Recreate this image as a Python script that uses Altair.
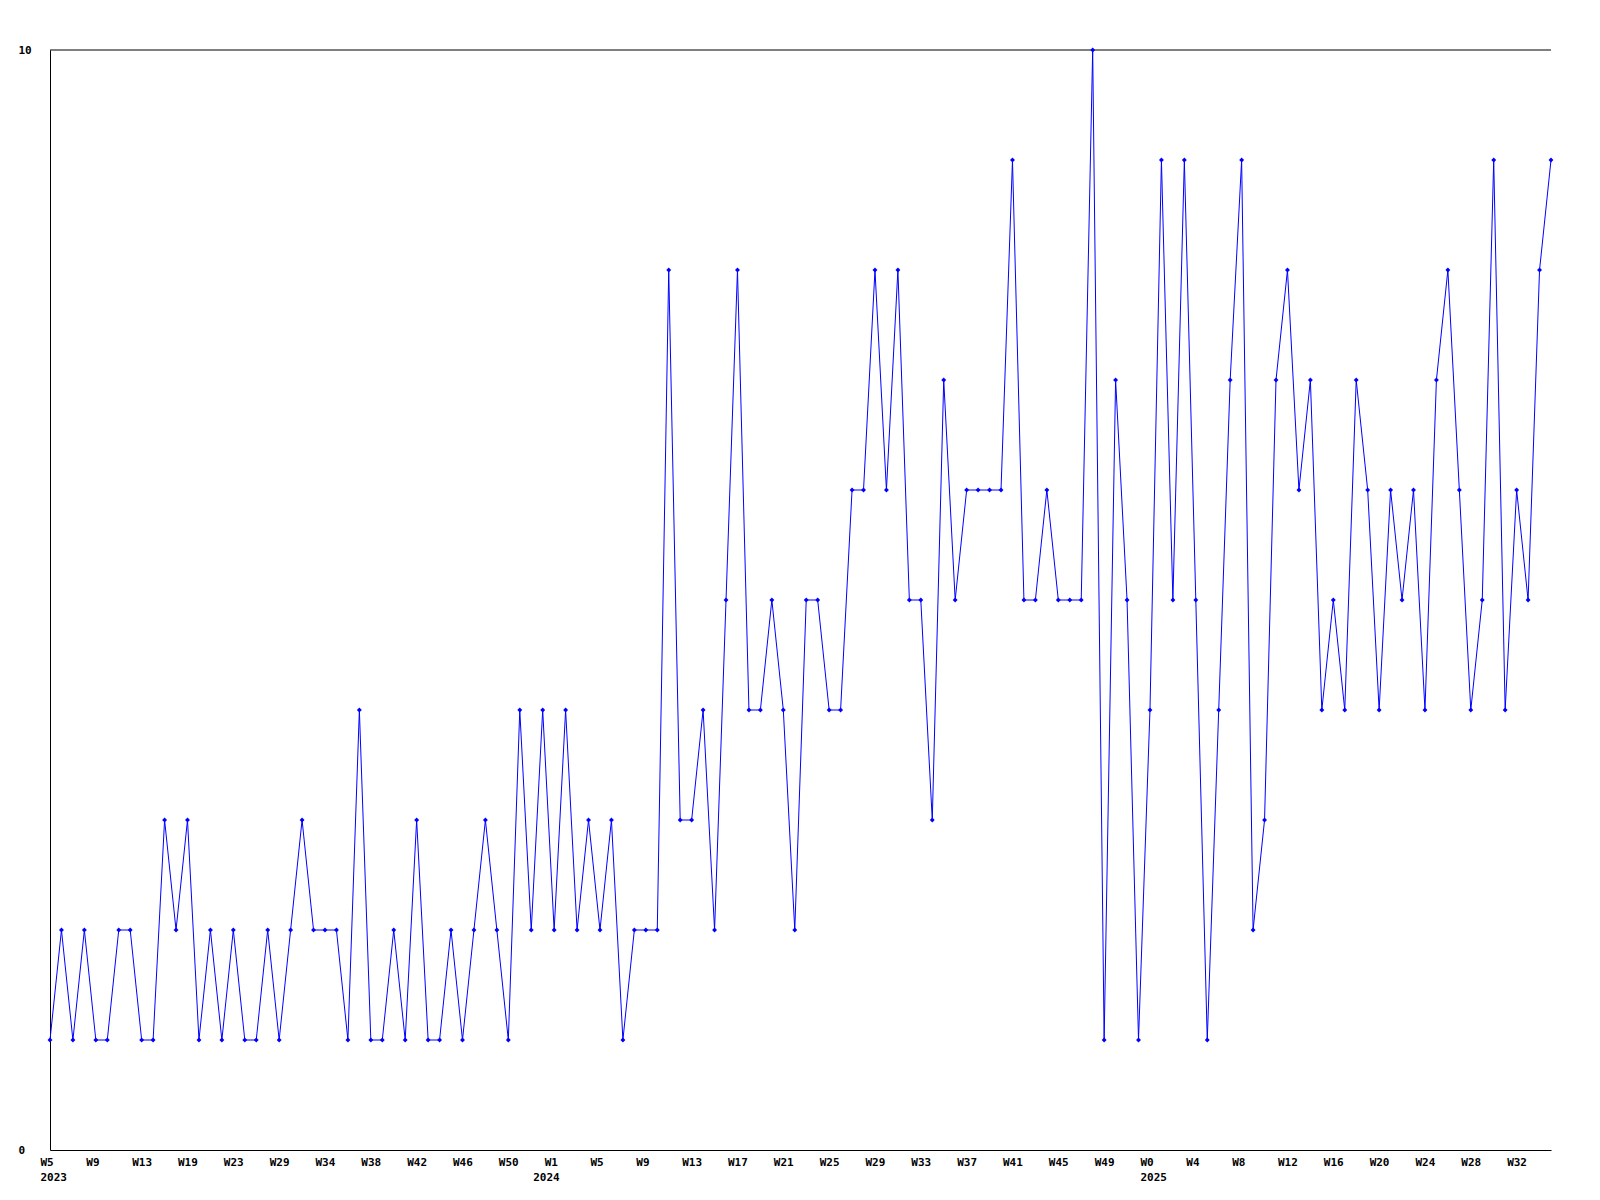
import altair as alt
import pandas as pd

# values per week (132 weekly points, first = W5 2023)
values = [
    1, 2, 1, 2, 1, 1, 2, 2, 1, 1, 3, 2, 3, 1, 2, 1, 2, 1, 1, 2, 1, 2, 3, 2, 2, 2, 1, 4, 1, 1, 2, 1, 3, 1, 1,
    2, 1, 2, 3, 2, 1, 4, 2, 4, 2, 4, 2, 3, 2, 3, 1, 2, 2, 2, 8, 3, 3, 4, 2, 5, 8, 4, 4, 5, 4, 2, 5, 5,
    4, 4, 6, 6, 8, 6, 8, 5, 5, 3, 7, 5, 6, 6, 6, 6, 9, 5, 5, 6, 5, 5, 5, 10, 1, 7, 5, 1, 4, 9, 5, 9, 5,
    1, 4, 7, 9, 2, 3, 7, 8, 6, 7, 4, 5, 4, 7, 6, 4, 6, 5, 6, 4, 7, 8, 6, 4, 5, 9, 4, 6, 5, 8, 9,
]

# week tick labels, one every 4 points
tick_labels = [
    "W5", "W9", "W13", "W19", "W23", "W29", "W34", "W38", "W42", "W46", "W50",
    "W1", "W5", "W9", "W13", "W17", "W21", "W25", "W29", "W33", "W37", "W41", "W45", "W49",
    "W0", "W4", "W8", "W12", "W16", "W20", "W24", "W28", "W32",
]
tick_step = 4

# year labels and the point index where each year starts
years = ["2023", "2024", "2025"]
year_starts = [0, 43, 96]

df = pd.DataFrame({"idx": list(range(len(values))), "value": values})
year_df = pd.DataFrame({"pos": year_starts, "year": years})
n_last = len(values) - 1
tick_vals = list(range(0, len(tick_labels) * tick_step, tick_step))
frame_df = pd.DataFrame({"x0": [0], "x1": [n_last], "value": [10]})

lab_arr = "[" + ",".join("'%s'" % s for s in tick_labels) + "]"
week_expr = "%s[round(datum.value/%d)]" % (lab_arr, tick_step)
year_expr = " : ".join(
    "datum.value == %d ? '%s'" % (p, y) for p, y in zip(year_starts, years)
) + " : ''"

FONT = "DejaVu Sans Mono"

xscale = alt.Scale(domain=[0, n_last], nice=False, zero=False)
yscale = alt.Scale(domain=[0, 10], nice=False)

label_style = dict(
    labelFont=FONT,
    labelFontWeight="bold",
    labelFontSize=11,
    labelColor="black",
    labelFlush=False,
)

y_axis = alt.Axis(
    values=[0, 10],
    format="d",
    title=None,
    grid=False,
    ticks=False,
    tickSize=0,
    domainColor="black",
    domainWidth=1,
    labelAlign="left",
    labelBaseline="middle",
    labelPadding=32,
    **label_style,
)

base = alt.Chart(df)

line = base.mark_line(color="#0000ff", strokeWidth=1).encode(
    x=alt.X(
        "idx:Q",
        scale=xscale,
        axis=alt.Axis(
            orient="bottom",
            values=tick_vals,
            labelExpr=week_expr,
            title=None,
            grid=False,
            ticks=False,
            tickSize=0,
            domainColor="black",
            domainWidth=1,
            labelAlign="left",
            labelBaseline="top",
            labelOffset=-10,
            labelPadding=6,
            labelOverlap=False,
            **label_style,
        ),
    ),
    y=alt.Y("value:Q", scale=yscale, axis=y_axis),
)

points = base.mark_point(shape="diamond", filled=True, color="#0000ff", size=24, opacity=1).encode(
    x=alt.X("idx:Q", scale=xscale, axis=None),
    y=alt.Y("value:Q", scale=yscale, axis=y_axis),
)

year_axis = alt.Chart(year_df).mark_tick(opacity=0).encode(
    x=alt.X(
        "pos:Q",
        scale=xscale,
        axis=alt.Axis(
            orient="bottom",
            values=year_starts,
            labelExpr=year_expr,
            title=None,
            grid=False,
            ticks=False,
            tickSize=0,
            domain=False,
            labelAlign="left",
            labelBaseline="top",
            labelOffset=-10,
            labelPadding=21,
            labelOverlap=False,
            **label_style,
        ),
    ),
    y=alt.value(0),
)

top_rule = alt.Chart(frame_df).mark_rule(color="black", strokeWidth=1).encode(
    y=alt.Y("value:Q", scale=yscale, axis=y_axis),
    x=alt.X("x0:Q", scale=xscale, axis=None),
    x2="x1:Q",
)

chart = (
    alt.layer(line, year_axis, top_rule, points)
    .resolve_axis(x="independent")
    .properties(
        width=1501,
        height=1100,
        autosize=alt.AutoSizeParams(type="none"),
        padding={"left": 42, "top": 42, "right": 40, "bottom": 42},
        background="white",
    )
    .configure_view(stroke=None)
)

chart.save("out.html", embed_options={"renderer": "svg", "actions": False})
